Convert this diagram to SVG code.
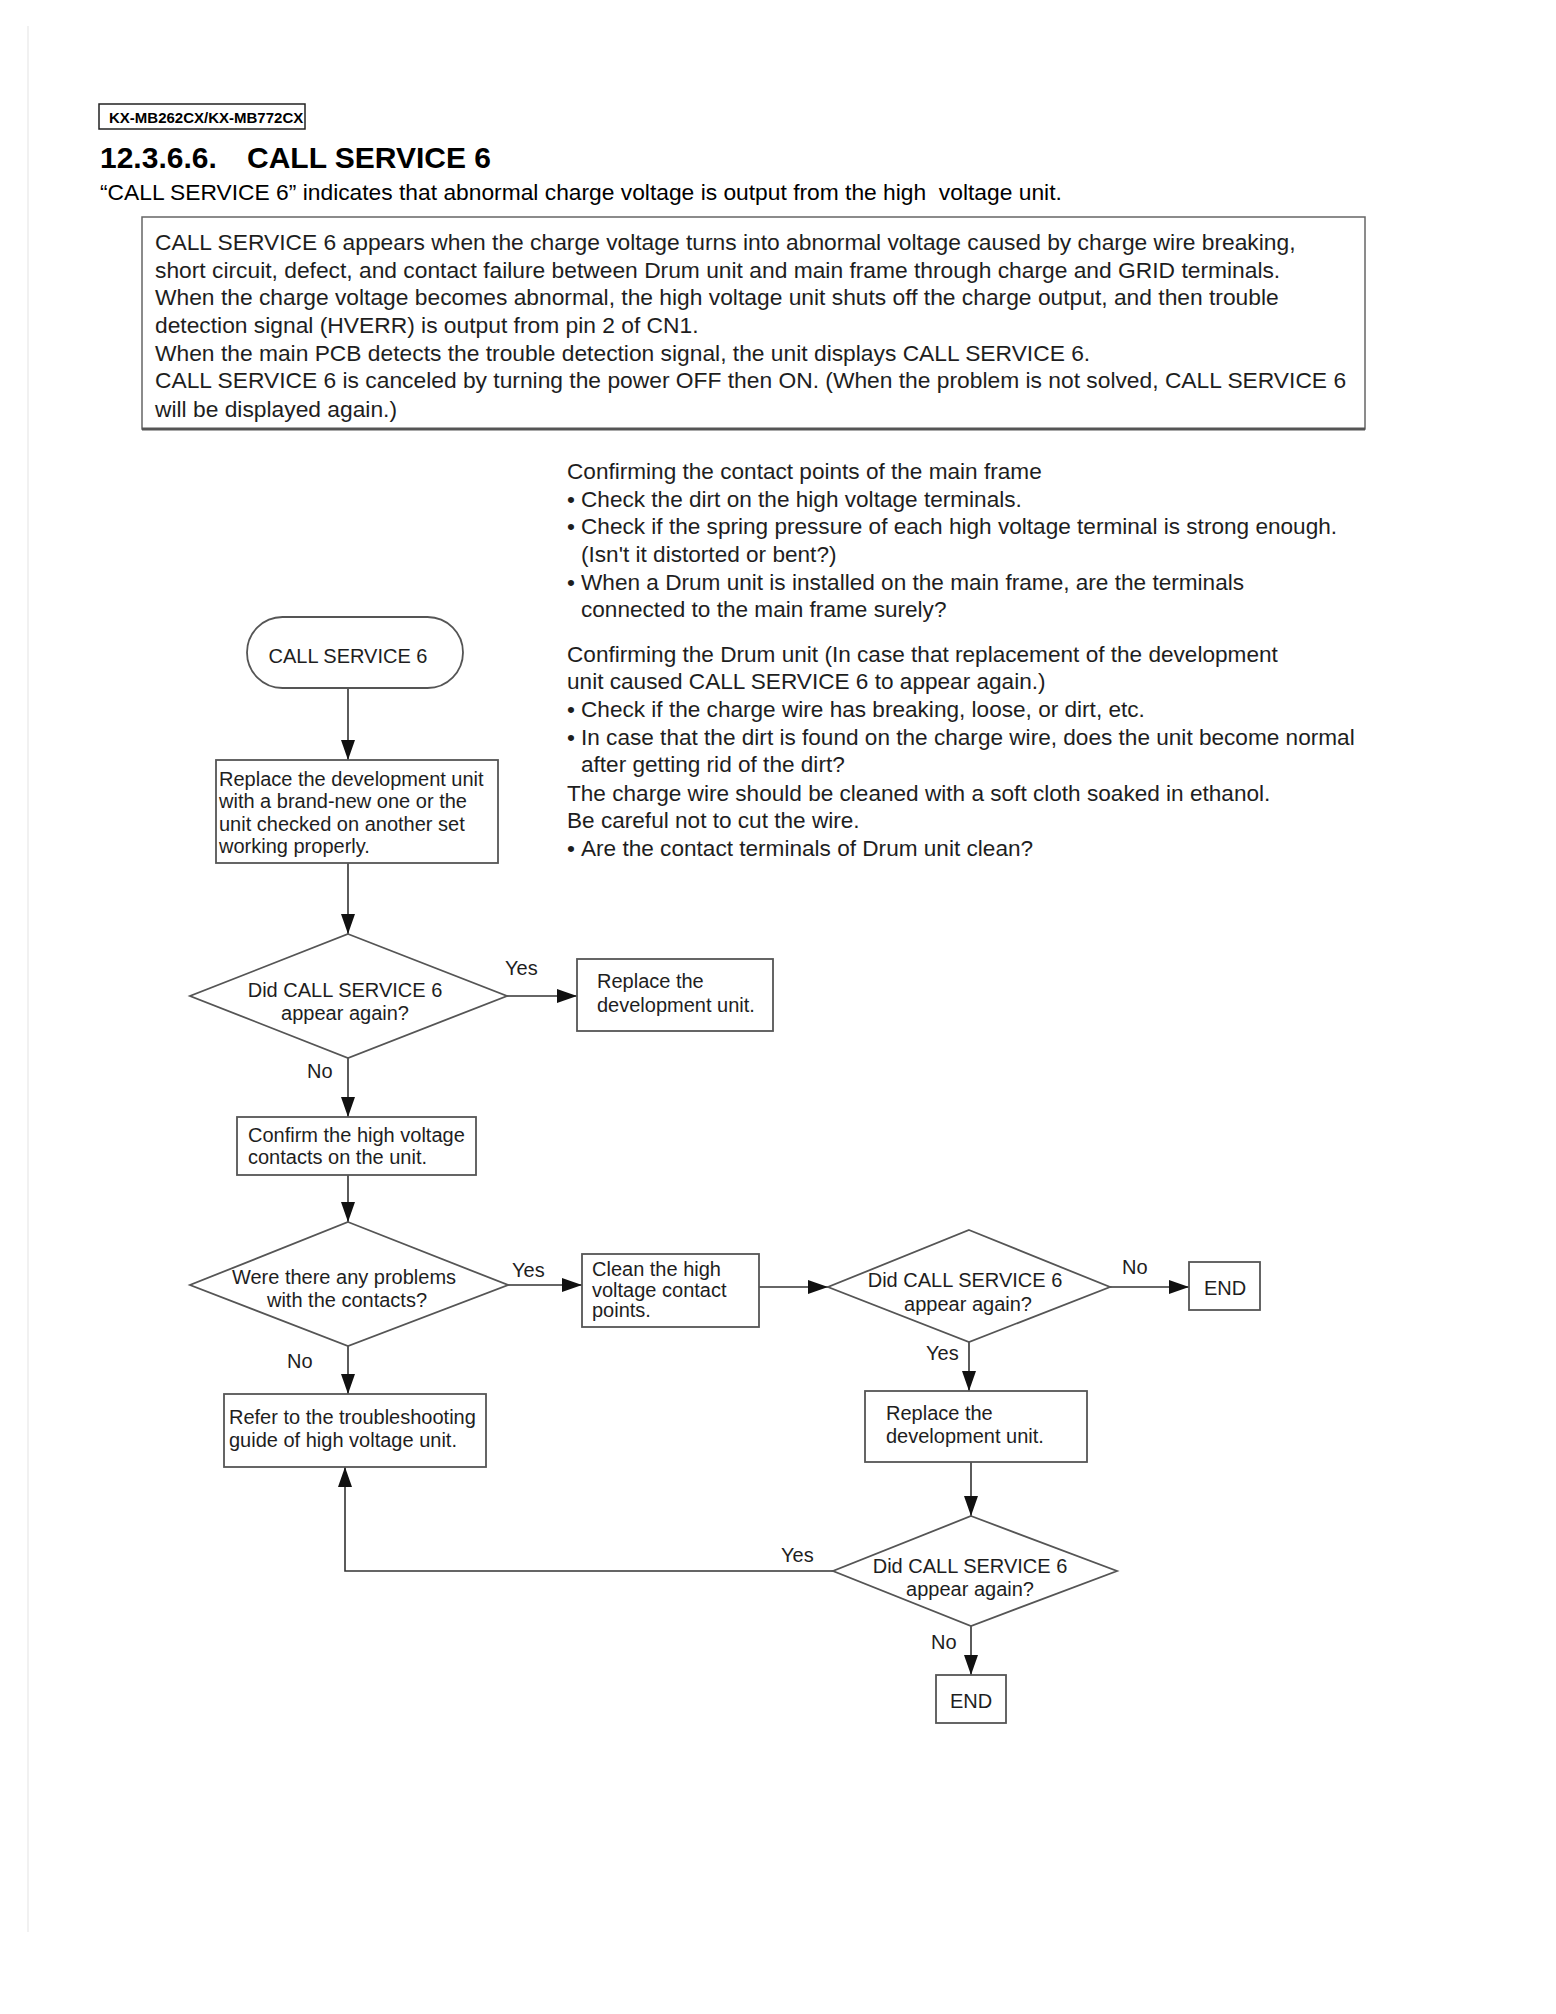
<svg xmlns="http://www.w3.org/2000/svg" width="1556" height="2014" viewBox="0 0 1556 2014">
<defs>
<style>
text{font-family:"Liberation Sans",Arial,sans-serif;fill:#1e1e1e}
.hd{font-size:15px;font-weight:bold;fill:#000}
.ti{font-size:30px;font-weight:bold;fill:#000}
.sub{font-size:22.8px;fill:#000}
.p{font-size:22.8px}
.q{font-size:22.6px}
.f{font-size:20px}
.c{text-anchor:middle}
.box{fill:#fff;stroke:#555;stroke-width:1.8}
.ln{fill:none;stroke:#333;stroke-width:1.6}
</style>
<marker id="ah" viewBox="0 0 20 14" refX="20" refY="7" markerWidth="20" markerHeight="14" markerUnits="userSpaceOnUse" orient="auto">
<path d="M0,0 L20,7 L0,14 Z" fill="#111"/>
</marker>
</defs>
<rect width="1556" height="2014" fill="#fff"/>
<line x1="28" y1="26" x2="28" y2="1932" stroke="#ececec" stroke-width="1.5"/>

<g id="header">
<rect x="99" y="104" width="206" height="25" fill="#fff" stroke="#222" stroke-width="1.5"/>
<text class="hd" x="109" y="123">KX-MB262CX/KX-MB772CX</text>
<text class="ti" x="100" y="168">12.3.6.6.<tspan x="247">CALL SERVICE 6</tspan></text>
<text class="sub" x="100" y="200">“CALL SERVICE 6” indicates that abnormal charge voltage is output from the high&#160; voltage unit.</text>
</g>

<g id="intro">
<rect x="142" y="217" width="1223" height="212" fill="#fff" stroke="#666" stroke-width="1.5"/>
<line x1="142" y1="429" x2="1365" y2="429" stroke="#555" stroke-width="3"/>
<text class="p" x="155" y="250">CALL SERVICE 6 appears when the charge voltage turns into abnormal voltage caused by charge wire breaking,</text>
<text class="p" x="155" y="278">short circuit, defect, and contact failure between Drum unit and main frame through charge and GRID terminals.</text>
<text class="p" x="155" y="305">When the charge voltage becomes abnormal, the high voltage unit shuts off the charge output, and then trouble</text>
<text class="p" x="155" y="333">detection signal (HVERR) is output from pin 2 of CN1.</text>
<text class="p" x="155" y="361">When the main PCB detects the trouble detection signal, the unit displays CALL SERVICE 6.</text>
<text class="p" x="155" y="388">CALL SERVICE 6 is canceled by turning the power OFF then ON. (When the problem is not solved, CALL SERVICE 6</text>
<text class="p" x="155" y="417">will be displayed again.)</text>
</g>

<g id="notes">
<text class="q" x="567" y="479">Confirming the contact points of the main frame</text>
<text class="q" x="567" y="507">•<tspan x="581">Check the dirt on the high voltage terminals.</tspan></text>
<text class="q" x="567" y="534">•<tspan x="581">Check if the spring pressure of each high voltage terminal is strong enough.</tspan></text>
<text class="q" x="581" y="562">(Isn't it distorted or bent?)</text>
<text class="q" x="567" y="590">•<tspan x="581">When a Drum unit is installed on the main frame, are the terminals</tspan></text>
<text class="q" x="581" y="617">connected to the main frame surely?</text>
<text class="q" x="567" y="662">Confirming the Drum unit (In case that replacement of the development</text>
<text class="q" x="567" y="689">unit caused CALL SERVICE 6 to appear again.)</text>
<text class="q" x="567" y="717">•<tspan x="581">Check if the charge wire has breaking, loose, or dirt, etc.</tspan></text>
<text class="q" x="567" y="745">•<tspan x="581">In case that the dirt is found on the charge wire, does the unit become normal</tspan></text>
<text class="q" x="581" y="772">after getting rid of the dirt?</text>
<text class="q" x="567" y="801">The charge wire should be cleaned with a soft cloth soaked in ethanol.</text>
<text class="q" x="567" y="828">Be careful not to cut the wire.</text>
<text class="q" x="567" y="856">•<tspan x="581">Are the contact terminals of Drum unit clean?</tspan></text>
</g>

<g id="connectors">
<line class="ln" x1="348" y1="688" x2="348" y2="760" marker-end="url(#ah)"/>
<line class="ln" x1="348" y1="863" x2="348" y2="934" marker-end="url(#ah)"/>
<line class="ln" x1="507" y1="996" x2="577" y2="996" marker-end="url(#ah)"/>
<line class="ln" x1="348" y1="1058" x2="348" y2="1117" marker-end="url(#ah)"/>
<line class="ln" x1="348" y1="1175" x2="348" y2="1222" marker-end="url(#ah)"/>
<line class="ln" x1="508" y1="1285" x2="582" y2="1285" marker-end="url(#ah)"/>
<line class="ln" x1="348" y1="1346" x2="348" y2="1394" marker-end="url(#ah)"/>
<line class="ln" x1="759" y1="1287" x2="828" y2="1287" marker-end="url(#ah)"/>
<line class="ln" x1="1110" y1="1287" x2="1189" y2="1287" marker-end="url(#ah)"/>
<line class="ln" x1="969" y1="1342" x2="969" y2="1391" marker-end="url(#ah)"/>
<line class="ln" x1="971" y1="1462" x2="971" y2="1516" marker-end="url(#ah)"/>
<line class="ln" x1="971" y1="1626" x2="971" y2="1675" marker-end="url(#ah)"/>
<polyline class="ln" points="833,1571 345,1571 345,1467" marker-end="url(#ah)"/>
<text class="f" x="505" y="975">Yes</text>
<text class="f" x="307" y="1078">No</text>
<text class="f" x="512" y="1277">Yes</text>
<text class="f" x="287" y="1368">No</text>
<text class="f" x="1122" y="1274">No</text>
<text class="f" x="926" y="1360">Yes</text>
<text class="f" x="781" y="1562">Yes</text>
<text class="f" x="931" y="1649">No</text>
</g>

<g id="start">
<rect class="box" x="247" y="617" width="216" height="71" rx="35.5" ry="35.5"/>
<text class="f c" x="348" y="663">CALL SERVICE 6</text>
</g>
<g id="replace1">
<rect class="box" x="216" y="760" width="282" height="103"/>
<text class="f" x="219" y="786">Replace the development unit</text>
<text class="f" x="219" y="808">with a brand-new one or the</text>
<text class="f" x="219" y="831">unit checked on another set</text>
<text class="f" x="219" y="853">working properly.</text>
</g>
<g id="decision1">
<polygon class="box" points="348,934 507,996 348,1058 190,996"/>
<text class="f c" x="345" y="997">Did CALL SERVICE 6</text>
<text class="f c" x="345" y="1020">appear again?</text>
</g>
<g id="replace2">
<rect class="box" x="577" y="959" width="196" height="72"/>
<text class="f" x="597" y="988">Replace the</text>
<text class="f" x="597" y="1012">development unit.</text>
</g>
<g id="confirm">
<rect class="box" x="237" y="1117" width="239" height="58"/>
<text class="f" x="248" y="1142">Confirm the high voltage</text>
<text class="f" x="248" y="1164">contacts on the unit.</text>
</g>
<g id="decision2">
<polygon class="box" points="348,1222 508,1285 348,1346 190,1285"/>
<text class="f c" x="344" y="1284">Were there any problems</text>
<text class="f c" x="347" y="1307">with the contacts?</text>
</g>
<g id="refer">
<rect class="box" x="224" y="1394" width="262" height="73"/>
<text class="f" x="229" y="1424">Refer to the troubleshooting</text>
<text class="f" x="229" y="1447">guide of high voltage unit.</text>
</g>
<g id="clean">
<rect class="box" x="582" y="1254" width="177" height="73"/>
<text class="f" x="592" y="1276">Clean the high</text>
<text class="f" x="592" y="1297">voltage contact</text>
<text class="f" x="592" y="1317">points.</text>
</g>
<g id="decision3">
<polygon class="box" points="969,1230 1110,1287 969,1342 828,1287"/>
<text class="f c" x="965" y="1287">Did CALL SERVICE 6</text>
<text class="f c" x="968" y="1311">appear again?</text>
</g>
<g id="end1">
<rect class="box" x="1189" y="1262" width="71" height="48"/>
<text class="f c" x="1225" y="1295">END</text>
</g>
<g id="replace3">
<rect class="box" x="865" y="1391" width="222" height="71"/>
<text class="f" x="886" y="1420">Replace the</text>
<text class="f" x="886" y="1443">development unit.</text>
</g>
<g id="decision4">
<polygon class="box" points="971,1516 1117,1571 971,1626 833,1571"/>
<text class="f c" x="970" y="1573">Did CALL SERVICE 6</text>
<text class="f c" x="970" y="1596">appear again?</text>
</g>
<g id="end2">
<rect class="box" x="936" y="1675" width="70" height="48"/>
<text class="f c" x="971" y="1708">END</text>
</g>
</svg>
